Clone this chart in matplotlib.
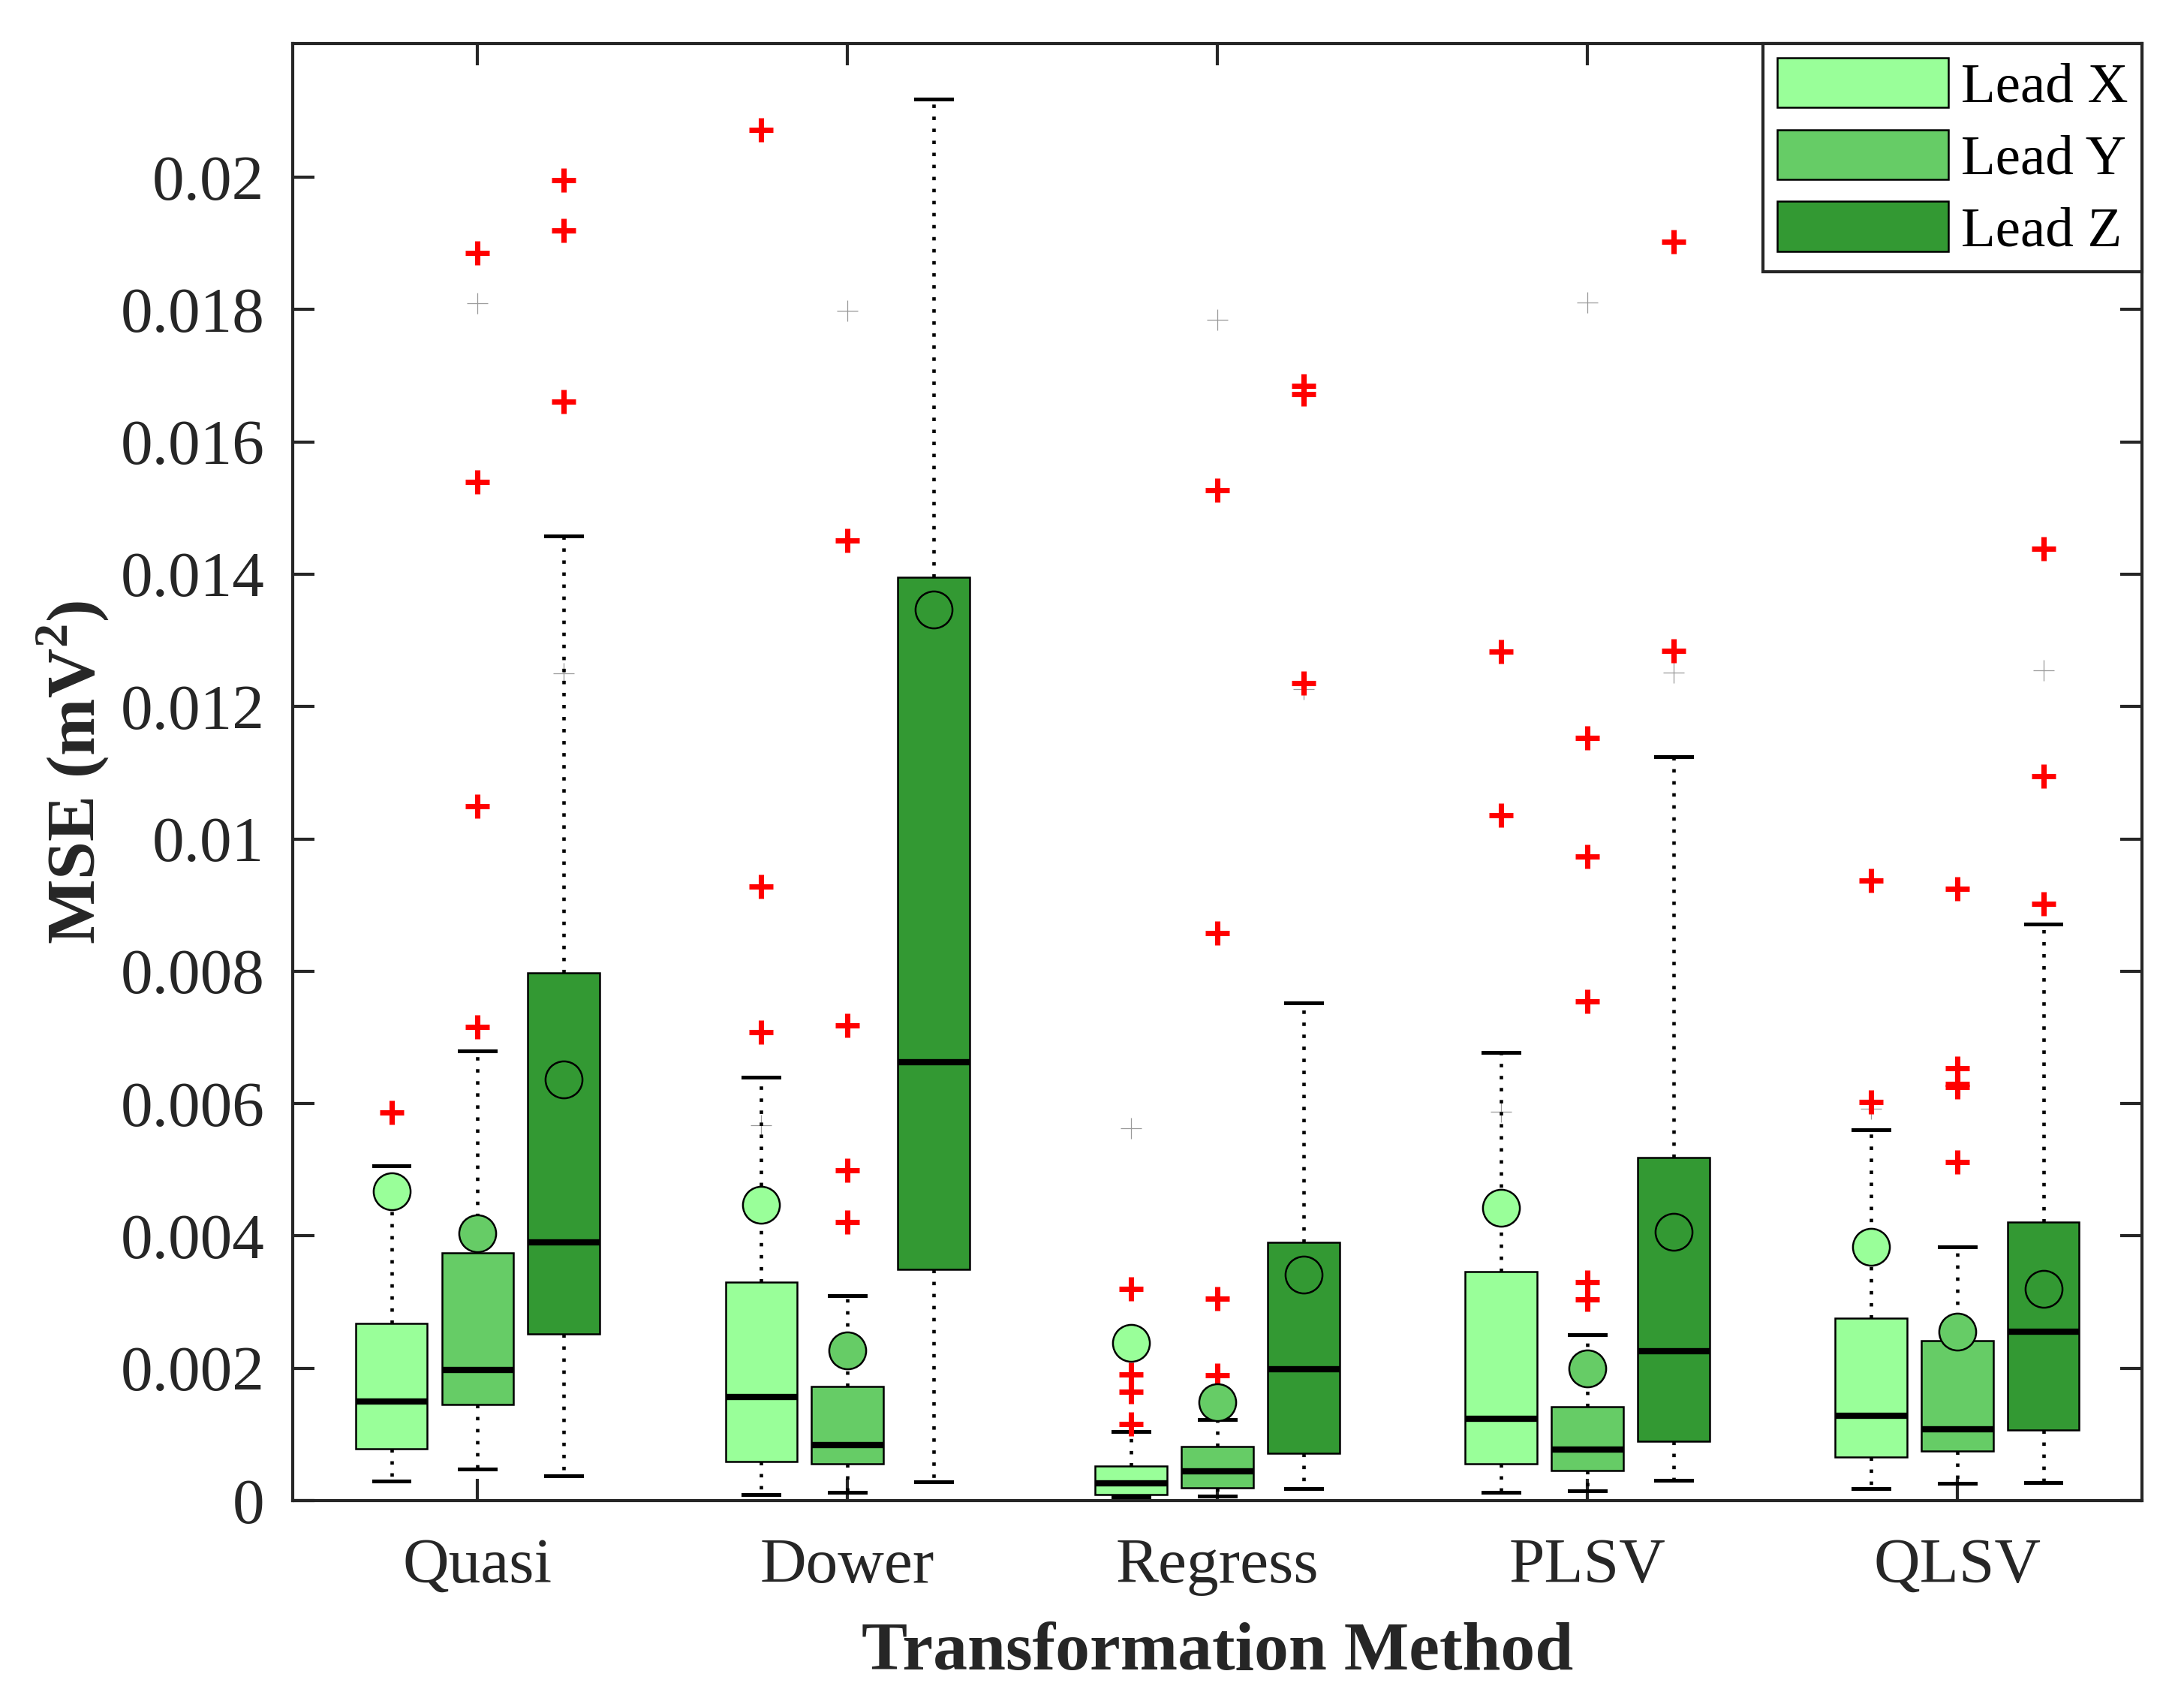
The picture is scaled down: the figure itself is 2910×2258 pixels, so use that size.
import numpy as np
import matplotlib
matplotlib.use("Agg")
import matplotlib.pyplot as plt
from matplotlib.patches import Patch
from matplotlib.ticker import FuncFormatter

plt.rcParams["font.family"] = "serif"
plt.rcParams["font.serif"] = ["Liberation Serif", "DejaVu Serif"]
plt.rcParams["mathtext.fontset"] = "custom"
plt.rcParams["mathtext.rm"] = "Liberation Serif"
plt.rcParams["mathtext.bf"] = "Liberation Serif:bold"

methods = ["Quasi", "Dower", "Regress", "PLSV", "QLSV"]
leads = ["Lead X", "Lead Y", "Lead Z"]
lead_colors = ["#99ff99", "#66cc66", "#339933"]
y_ticks = [0, 0.002, 0.004, 0.006, 0.008, 0.01, 0.012, 0.014, 0.016, 0.018, 0.02]

# per lead: one value per method (Quasi, Dower, Regress, PLSV, QLSV)
q1 = {
    "Lead X": [0.00078, 0.00059, 0.00009, 0.00056, 0.00066],
    "Lead Y": [0.00145, 0.00056, 0.00019, 0.00045, 0.00075],
    "Lead Z": [0.00252, 0.00349, 0.00072, 0.00090, 0.00107],
}
med = {
    "Lead X": [0.00150, 0.00156, 0.00026, 0.00124, 0.00128],
    "Lead Y": [0.00197, 0.00084, 0.00044, 0.00077, 0.00108],
    "Lead Z": [0.00390, 0.00662, 0.00198, 0.00226, 0.00255],
}
q3 = {
    "Lead X": [0.00268, 0.00330, 0.00052, 0.00346, 0.00276],
    "Lead Y": [0.00374, 0.00173, 0.00082, 0.00142, 0.00242],
    "Lead Z": [0.00798, 0.01395, 0.00390, 0.00518, 0.00421],
}
whis_lo = {
    "Lead X": [0.00029, 0.00009, 0.00006, 0.00013, 0.00018],
    "Lead Y": [0.00048, 0.00013, 0.00007, 0.00015, 0.00026],
    "Lead Z": [0.00037, 0.00028, 0.00018, 0.00031, 0.00027],
}
whis_hi = {
    "Lead X": [0.00506, 0.00640, 0.00104, 0.00677, 0.00560],
    "Lead Y": [0.00679, 0.00310, 0.00122, 0.00251, 0.00383],
    "Lead Z": [0.01458, 0.02118, 0.00752, 0.01124, 0.00871],
}
means = {
    "Lead X": [0.00467, 0.00447, 0.00238, 0.00443, 0.00383],
    "Lead Y": [0.00404, 0.00227, 0.00149, 0.00200, 0.00255],
    "Lead Z": [0.00636, 0.01347, 0.00342, 0.00406, 0.00320],
}
outliers = {
    "Lead X": [[0.00587], [0.00708, 0.00928, 0.02072],
               [0.00116, 0.00165, 0.00191, 0.00320],
               [0.01036, 0.01283], [0.00602, 0.00937]],
    "Lead Y": [[0.00716, 0.01049, 0.01539, 0.01886],
               [0.00421, 0.00499, 0.00718, 0.01451],
               [0.00189, 0.00305, 0.00858, 0.01527],
               [0.00304, 0.00330, 0.00754, 0.00973, 0.01153],
               [0.00512, 0.00625, 0.00630, 0.00653, 0.00925]],
    "Lead Z": [[0.01661, 0.01919, 0.01996], [],
               [0.01235, 0.01672, 0.01685],
               [0.01284, 0.01902], [0.00902, 0.01095, 0.01439]],
}
# faint grey crosses left in the figure
ghost = {
    "Lead X": [[], [0.00567], [0.00563], [0.00588], [0.00592]],
    "Lead Y": [[0.01809], [0.01798], [0.01785], [0.01811], []],
    "Lead Z": [[0.01250], [], [0.01226], [0.01251], [0.01255]],
}

offsets = [-0.233, 0.0, 0.233]
box_w = 0.194
dark = "#262626"

fig = plt.figure(figsize=(9.7, 7.5267), dpi=300)
ax = fig.add_axes([0.134, 0.1147, 0.8468, 0.8596])

for k, lead in enumerate(leads):
    pos = np.arange(1, len(methods) + 1) + offsets[k]
    stats = []
    for i in range(len(methods)):
        stats.append(dict(med=med[lead][i], q1=q1[lead][i], q3=q3[lead][i],
                          whislo=whis_lo[lead][i], whishi=whis_hi[lead][i],
                          mean=means[lead][i], fliers=outliers[lead][i]))
    ax.bxp(stats, positions=pos, widths=box_w, capwidths=box_w / 2,
           showmeans=True, patch_artist=True, manage_ticks=False,
           boxprops=dict(facecolor=lead_colors[k], edgecolor="black", linewidth=0.6),
           medianprops=dict(color="black", linewidth=2.0),
           whiskerprops=dict(color="black", linewidth=1.1, linestyle=(0, (1, 2.5))),
           capprops=dict(color="black", linewidth=1.2),
           flierprops=dict(marker="+", markeredgecolor="red", markersize=7.5,
                           markeredgewidth=1.7, linestyle="none"),
           meanprops=dict(marker="o", markerfacecolor=lead_colors[k],
                          markeredgecolor="black", markersize=11.8,
                          markeredgewidth=0.6))
    for i in range(len(methods)):
        g = ghost[lead][i]
        ax.plot([pos[i]] * len(g), g, linestyle="none", marker="+",
                color="#999999", markersize=6.6, markeredgewidth=0.3, zorder=1)

ax.set_xlim(0.5, 5.5)
ax.set_ylim(0, 0.02202)
ax.set_xticks(np.arange(1, len(methods) + 1))
ax.set_xticklabels(methods)
ax.set_yticks(y_ticks)
ax.yaxis.set_major_formatter(FuncFormatter(lambda v, p: "0" if v == 0 else f"{v:g}"))
ax.tick_params(direction="in", length=7, width=1.0, colors=dark, labelsize=20.5,
               pad=9, top=True, right=True)
ax.tick_params(axis="x", pad=12)
for s in ax.spines.values():
    s.set_color(dark)
    s.set_linewidth(1.0)

ax.set_xlabel("Transformation Method", fontsize=22, fontweight="bold", color=dark,
              labelpad=8.5)
ax.set_ylabel(r"MSE (mV$^{\mathbf{2}}$)", fontsize=22, fontweight="bold", color=dark,
              labelpad=3)

handles = [Patch(facecolor=c, edgecolor="black", linewidth=0.6) for c in lead_colors]
leg = ax.legend(handles, leads, loc="upper right", fontsize=18, frameon=True,
                fancybox=False, framealpha=1, borderaxespad=0, borderpad=0.25,
                handlelength=3.05, handleheight=0.98, handletextpad=0.22,
                labelspacing=0.28)
leg.get_frame().set_edgecolor(dark)
leg.get_frame().set_linewidth(1.0)

fig.savefig("out.png", dpi=300)
